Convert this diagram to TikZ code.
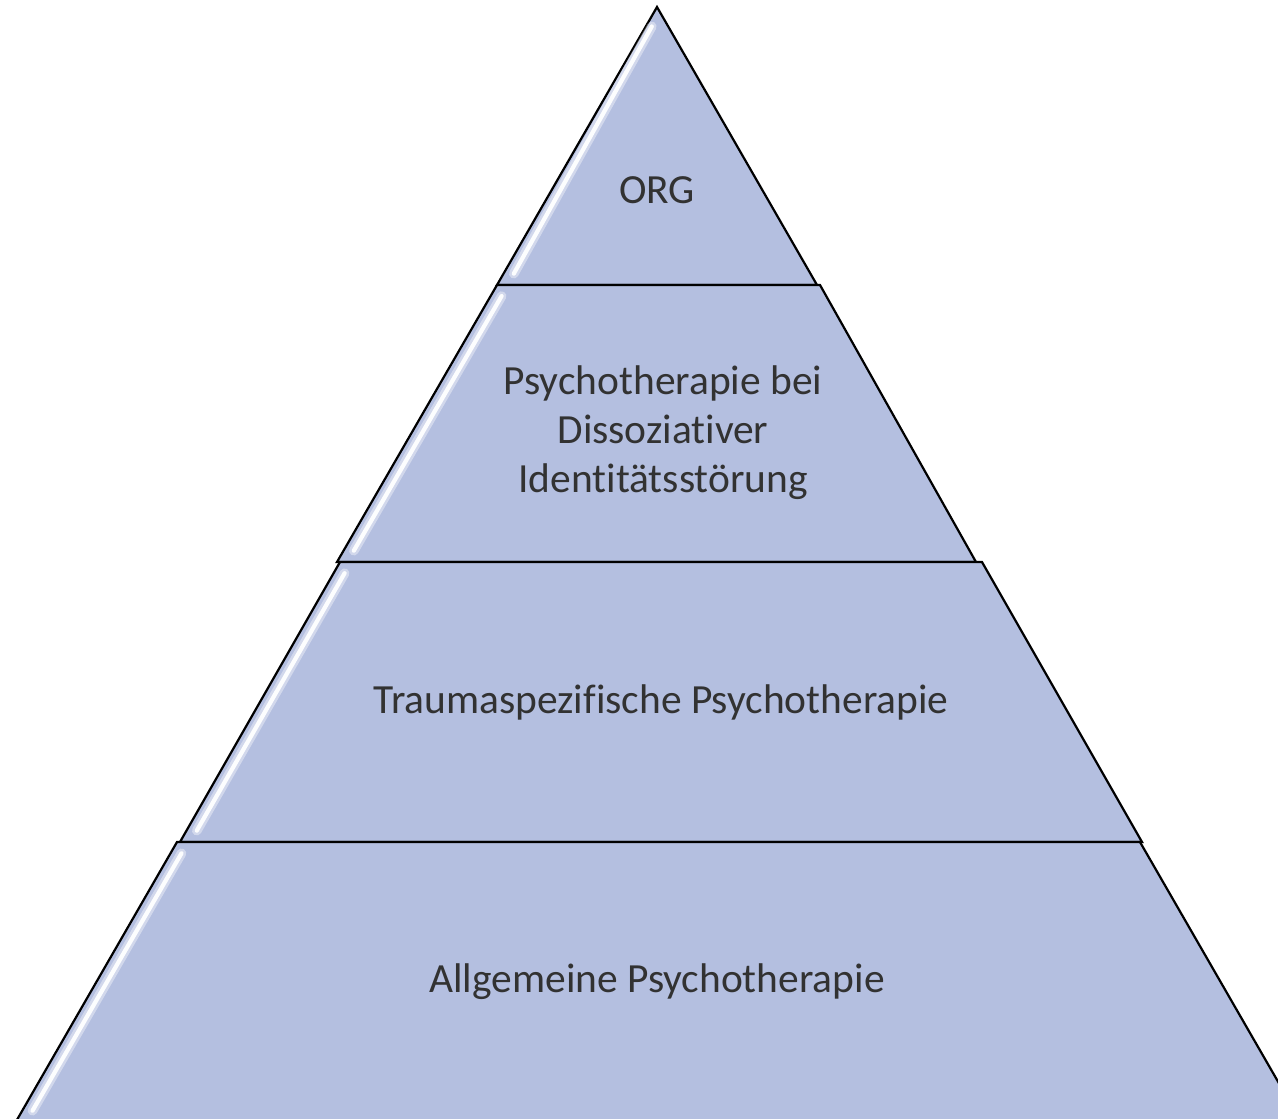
\documentclass[tikz,border=0pt]{standalone}
\usepackage{fontspec}
\setmainfont[Ligatures=NoCommon]{Carlito}
\usetikzlibrary{calc}
\definecolor{pyrfill}{RGB}{180,191,224}
\definecolor{pyrtext}{RGB}{50,50,50}

\begin{document}
\begin{tikzpicture}[
  x=0.02cm, y=-0.02cm,
  layer/.style={draw=black, line width=1.25pt, fill=pyrfill, line join=miter},
  shine/.style={draw=white, line width=2.4pt, line cap=round, opacity=0.95},
  halo/.style={draw=white, line width=5.5pt, line cap=round, opacity=0.4},
  lbl/.style={text=pyrtext, align=center, font=\fontsize{23.6}{27.8}\selectfont, inner sep=0pt}]
\clip (0,0) rectangle (1278,1119);
% corners of the four layers
\coordinate (a1) at (657,7);   \coordinate (b1) at (497,285); \coordinate (c1) at (817,285);
\coordinate (a2) at (497,285); \coordinate (d2) at (820,285); \coordinate (b2) at (337,562); \coordinate (c2) at (976,562);
\coordinate (a3) at (340,562); \coordinate (d3) at (982,562); \coordinate (b3) at (180,842); \coordinate (c3) at (1142,842);
\coordinate (a4) at (177,842); \coordinate (d4) at (1140,842); \coordinate (b4) at (14,1125); \coordinate (c4) at (1303,1125);
\draw[layer] (a1) -- (c1) -- (b1) -- cycle;
\draw[layer] (a2) -- (d2) -- (c2) -- (b2) -- cycle;
\draw[layer] (a3) -- (d3) -- (c3) -- (b3) -- cycle;
\draw[layer] (a4) -- (d4) -- (c4) -- (b4) -- cycle;
% highlights on the left edges
\draw[halo] ($(a1)!0.07!(b1)+(6,0)$) -- ($(b1)!0.03!(a1)+(12,-3)$);
\draw[shine] ($(a1)!0.07!(b1)+(6,0)$) -- ($(b1)!0.03!(a1)+(12,-3)$);
\draw[halo] ($(a2)!0.04!(b2)+(11,0)$) -- ($(b2)!0.03!(a2)+(12,-3)$);
\draw[shine] ($(a2)!0.04!(b2)+(11,0)$) -- ($(b2)!0.03!(a2)+(12,-3)$);
\draw[halo] ($(a3)!0.04!(b3)+(11,0)$) -- ($(b3)!0.03!(a3)+(12,-3)$);
\draw[shine] ($(a3)!0.04!(b3)+(11,0)$) -- ($(b3)!0.03!(a3)+(12,-3)$);
\draw[halo] ($(a4)!0.04!(b4)+(11,0)$) -- ($(b4)!0.04!(a4)+(12,-3)$);
\draw[shine] ($(a4)!0.04!(b4)+(11,0)$) -- ($(b4)!0.04!(a4)+(12,-3)$);
% labels
\node[lbl] (org) at (657,190) {ORG};
\node[lbl] (dis) at (663,433) {Psychotherapie bei\\Dissoziativer\\Identitätsstörung};
\node[lbl] (trauma) at (661,702) {Traumaspezifische Psychotherapie};
\node[lbl] (allg) at (657,982) {Allgemeine Psychotherapie};
\end{tikzpicture}
\end{document}
